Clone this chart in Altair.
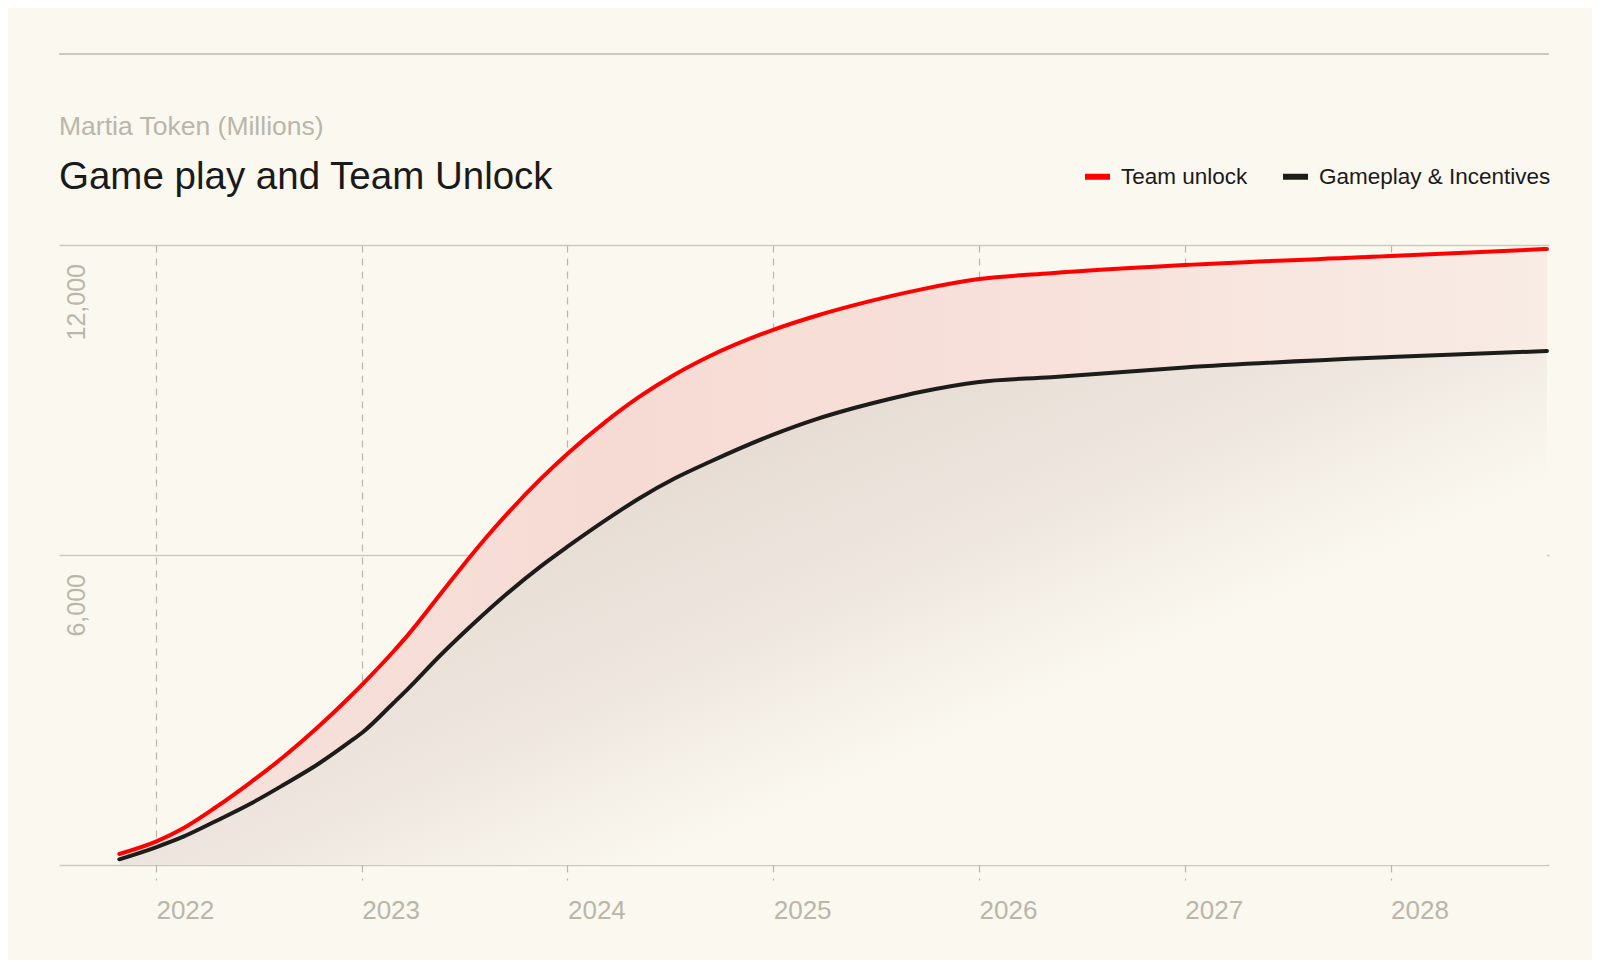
import altair as alt
import pandas as pd

FONT = "Liberation Sans"
BG = "#fbf8f0"
GRID = "#cdc9bb"
DASH = "#bab6ac"
LABEL = "#bab6aa"
INK = "#1a1a1a"

# ---- data ----
years = [2021.822, 2022.0, 2022.133, 2022.295, 2022.457, 2022.619, 2022.781,
         2022.943, 2023.008, 2023.153, 2023.22, 2023.38, 2023.54, 2023.7,
         2023.87, 2024.0, 2024.18, 2024.35, 2024.52, 2024.69, 2025.0, 2025.21,
         2025.38, 2025.55, 2025.72, 2026.0, 2026.35, 2027.0, 2028.0, 2028.76]
team_unlock = [213, 451, 710, 1128, 1590, 2090, 2646,
               3257, 3517, 4128, 4430, 5230, 6030, 6766,
               7472, 7960, 8563, 9064, 9489, 9846, 10358, 10631,
               10821, 10991, 11141, 11340, 11455, 11612, 11786, 11923]
gameplay = [110, 343, 548, 857, 1181, 1548, 1935,
            2386, 2580, 3131, 3390, 4050, 4660, 5230,
            5780, 6160, 6660, 7100, 7480, 7800, 8330, 8630,
            8830, 9005, 9160, 9350, 9440, 9630, 9830, 9948]
series_names = ["Team unlock", "Gameplay & Incentives"]
series_colors = ["#ff0000", "#1c1c1b"]
year_ticks = [2022, 2023, 2024, 2025, 2026, 2027, 2028]
value_ticks = [0, 6000, 12000]
value_labels = [6000, 12000]
x_domain = [2021.529, 2028.77]
y_domain = [0, 12000]

wide = pd.DataFrame({"t": years, "red": team_unlock, "black": gameplay})
long = pd.concat([
    pd.DataFrame({"t": years, "value": team_unlock, "series": series_names[0]}),
    pd.DataFrame({"t": years, "value": gameplay, "series": series_names[1]}),
])
ylab = pd.DataFrame({"v": value_labels})

W, H = 1490, 620

x_enc = alt.X(
    "t:Q",
    scale=alt.Scale(domain=x_domain, nice=False, zero=False),
    axis=alt.Axis(
        values=year_ticks, format="d", title=None,
        grid=True, gridDash=[7, 6], gridColor=DASH, gridWidth=1.2,
        ticks=True, tickDash=[7, 6], tickColor=DASH, tickWidth=1.2, tickSize=15,
        domain=False, labelAlign="left", labelBaseline="top", labelPadding=17,
        labelFont=FONT, labelFontSize=26, labelColor=LABEL,
        labelFlush=False, labelOverlap=False,
    ),
)
y_axis = alt.Axis(
    values=value_ticks, title=None, grid=True, gridColor=GRID, gridWidth=1.5,
    ticks=False, domain=False, labels=False,
)
y_scale = alt.Scale(domain=y_domain, nice=False)

lower = alt.Chart(wide).mark_area(
    interpolate="monotone",
    color=alt.Gradient(
        gradient="linear",
        stops=[
            alt.GradientStop(offset=0, color="#e3d8cf"),
            alt.GradientStop(offset=0.47, color="#e7ddd5"),
            alt.GradientStop(offset=0.73, color="#efe8e0"),
            alt.GradientStop(offset=0.95, color=BG),
            alt.GradientStop(offset=1, color=BG),
        ],
        x1=0, y1=0, x2=0.75, y2=0.628,
    ),
).encode(
    x=x_enc,
    y=alt.Y("black:Q", scale=y_scale, axis=y_axis),
)

band = alt.Chart(wide).mark_area(
    interpolate="monotone",
    color=alt.Gradient(
        gradient="linear",
        stops=[
            alt.GradientStop(offset=0, color="#f7e2dc"),
            alt.GradientStop(offset=0.35, color="#f6dbd4"),
            alt.GradientStop(offset=0.65, color="#f7e1da"),
            alt.GradientStop(offset=1, color="#f8ece5"),
        ],
        x1=0, y1=0, x2=1, y2=0,
    ),
).encode(
    x=x_enc,
    y=alt.Y("red:Q", scale=y_scale, axis=y_axis),
    y2="black:Q",
)

lines = alt.Chart(long).mark_line(
    interpolate="monotone", strokeWidth=4, strokeCap="round"
).encode(
    x=x_enc,
    y=alt.Y("value:Q", scale=y_scale, axis=y_axis),
    color=alt.Color(
        "series:N",
        scale=alt.Scale(domain=series_names, range=series_colors),
        sort=series_names,
        legend=alt.Legend(
            title=None, orient="none", legendX=1023, legendY=-84,
            direction="horizontal", symbolType="stroke", symbolSize=625,
            symbolStrokeWidth=6, labelFont=FONT, labelFontSize=22.5,
            labelColor=INK, labelOffset=8, columnPadding=23, labelLimit=500,
        ),
    ),
)

y_labels = alt.Chart(ylab).mark_text(
    angle=270, align="right", baseline="alphabetic", dx=-19,
    font=FONT, fontSize=25, color=LABEL,
).encode(
    x=alt.value(26),
    y=alt.Y("v:Q", scale=y_scale, axis=y_axis),
    text=alt.Text("v:Q", format=","),
)

top_rule = alt.Chart(wide).mark_rule(color=GRID, strokeWidth=1.5).encode(
    x=alt.value(0), x2=alt.value(W), y=alt.value(-191)
)

chart = alt.layer(top_rule, lower, band, lines, y_labels).properties(
    width=W,
    height=H,
    background=BG,
    padding={"left": 51, "top": 237, "right": 43, "bottom": 95},
    autosize=alt.AutoSizeParams(type="none"),
    title=alt.TitleParams(
        text="Martia Token (Millions)",
        subtitle="Game play and Team Unlock",
        anchor="start", frame="group",
        font=FONT, fontSize=26.5, fontWeight="normal", color=LABEL,
        subtitleFont=FONT, subtitleFontSize=38.5, subtitleColor=INK,
        subtitlePadding=18, offset=-143,
    ),
).configure_view(stroke=None)

chart.save("out.html", embed_options={"renderer": "svg", "actions": False})
